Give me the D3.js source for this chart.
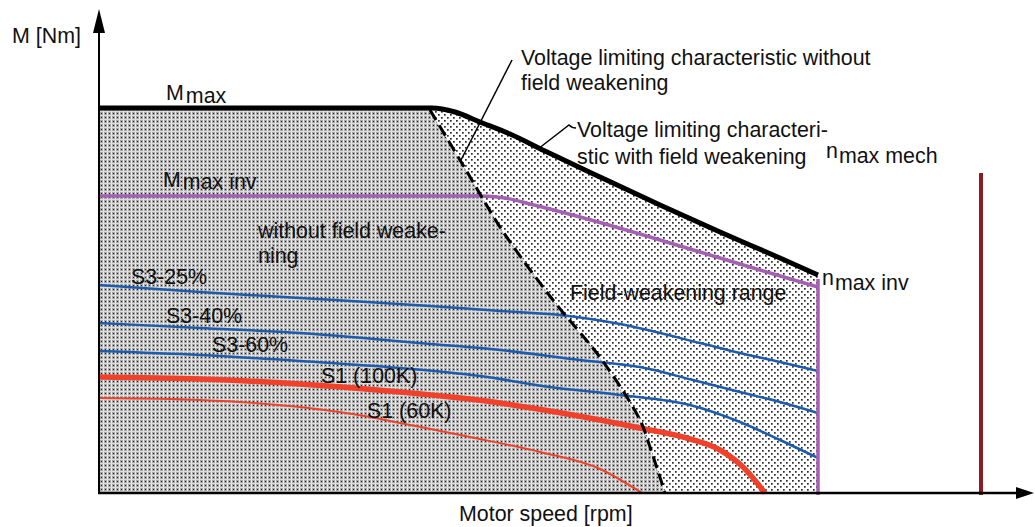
<!DOCTYPE html>
<html>
<head>
<meta charset="utf-8">
<script src="https://cdn.jsdelivr.net/npm/d3@7/dist/d3.min.js"></script>
<style>
  html, body { margin: 0; padding: 0; background: #fff; }
  svg text { font-family: "Liberation Sans", Arial, sans-serif; font-size: 21.4px; fill: #111; }
</style>
</head>
<body>
<svg id="chart" width="1035" height="527"></svg>
<script>
// ---- data (speed in arbitrary rpm units, torque in arbitrary Nm units) ----
const mMax = [[0,385],[333,385],[356,381],[381,371],[411,359],[446,342],[501,316],[561,288],[621,261],[681,235],[719,218]];
const mMaxInv = [[0,297],[381,297],[406,295],[431,289],[481,276],[541,259],[601,241],[661,223],[719,206]];
const voltNoFW = [[331,383],[367,323],[403,263],[454,193],[503,133],[541,73],[551,46],[566,0]];
const s3_25 = [[0,208],[101,201],[201,195],[331,187],[401,182],[461,178],[521,169],[601,150],[641,140],[681,131],[719,122]];
const s3_40 = [[0,170],[101,165],[201,160],[331,149],[401,143],[481,133],[541,126],[594,113],[641,101],[681,91],[719,80]];
const s3_60 = [[0,142],[101,138],[201,132],[301,125],[381,117],[451,106],[521,98],[591,88],[641,71],[681,53],[719,35]];
const s1_100K = [[0,116],[101,114],[201,109],[301,101],[401,90],[451,82],[541,65],[591,54],[621,43],[644,26],[666,0]];
const s1_60K = [[0,95],[101,93],[201,86],[271,76],[301,70],[371,56],[441,41],[501,24],[543,0]];
const nMaxInv = 719;      // speed of inverter limit
const nMaxInvTop = 214;   // torque where the limit line starts
const nMaxMech = 882;     // mechanical max speed
const nMaxMechTop = 320;
const leader1 = [[413,433],[361,331]];
const leader2 = [[474,366],[439,344]];

const axisLabels = { x: "Motor speed [rpm]", y: "M [Nm]" };

// ---- scales ----
const svg = d3.select("#chart");
const x = d3.scaleLinear().domain([0, 920]).range([99, 1019]);
const y = d3.scaleLinear().domain([0, 480]).range([493, 13]);

// ---- patterns ----
const defs = svg.append("defs");
const pd = defs.append("pattern").attr("id", "dense").attr("patternUnits", "userSpaceOnUse")
  .attr("width", 4).attr("height", 4);
pd.append("rect").attr("width", 4).attr("height", 4).attr("fill", "#a9a9a9");
pd.append("rect").attr("x", 3).attr("width", 1).attr("height", 4).attr("fill", "#ececec");
pd.append("rect").attr("y", 3).attr("width", 4).attr("height", 1).attr("fill", "#dcdcdc");
pd.append("rect").attr("x", 1).attr("y", 1).attr("width", 1).attr("height", 1).attr("fill", "#1a1a1a");

const ps = defs.append("pattern").attr("id", "sparse").attr("patternUnits", "userSpaceOnUse")
  .attr("width", 6).attr("height", 6);
ps.append("rect").attr("width", 6).attr("height", 6).attr("fill", "#fff");
ps.append("rect").attr("x", 0).attr("y", 0).attr("width", 1.7).attr("height", 1.7).attr("fill", "#2a2a2a");
ps.append("rect").attr("x", 3).attr("y", 3).attr("width", 1.7).attr("height", 1.7).attr("fill", "#2a2a2a");

const line = d3.line().x(d => x(d[0])).y(d => y(d[1])).curve(d3.curveMonotoneX);
const lineCR = d3.line().x(d => x(d[0])).y(d => y(d[1])).curve(d3.curveCatmullRom.alpha(0.5));

// ---- regions ----
const denseTop = mMax.filter(d => d[0] <= voltNoFW[0][0]);
const densePoly = [[0,0]].concat(denseTop, voltNoFW);
svg.append("path")
  .attr("d", "M" + densePoly.map(d => x(d[0]) + "," + y(d[1])).join("L") + "Z")
  .attr("fill", "url(#dense)");

const topPart = mMax.filter(d => d[0] >= voltNoFW[0][0]);
const sparsePath = line(topPart) + "L" + x(nMaxInv) + "," + y(0) +
  "L" + voltNoFW.slice().reverse().map(d => x(d[0]) + "," + y(d[1])).join("L") + "Z";
svg.append("path").attr("d", sparsePath).attr("fill", "url(#sparse)");

// ---- curves ----
const curves = [
  { data: s1_60K, color: "#f2412a", w: 2 },
  { data: s1_100K, color: "#f2412a", w: 5.5 },
  { data: s3_60, color: "#1d5cad", w: 2.5 },
  { data: s3_40, color: "#1d5cad", w: 2.5 },
  { data: s3_25, color: "#1d5cad", w: 2.5 },
  { data: mMaxInv, color: "#a460b2", w: 3.5 },
];
curves.forEach(c => {
  svg.append("path").attr("d", line(c.data)).attr("fill", "none")
    .attr("stroke", c.color).attr("stroke-width", c.w).attr("stroke-linejoin", "round");
});
svg.append("line").attr("x1", x(nMaxInv)).attr("x2", x(nMaxInv))
  .attr("y1", y(nMaxInvTop)).attr("y2", y(0) + 2)
  .attr("stroke", "#a460b2").attr("stroke-width", 3.5);

svg.append("path").attr("d", lineCR(voltNoFW)).attr("fill", "none")
  .attr("stroke", "#000").attr("stroke-width", 3).attr("stroke-dasharray", "12,6");

svg.append("path").attr("d", line(mMax)).attr("fill", "none")
  .attr("stroke", "#000").attr("stroke-width", 5).attr("stroke-linejoin", "round");

svg.append("line").attr("x1", x(nMaxMech)).attr("x2", x(nMaxMech))
  .attr("y1", y(nMaxMechTop)).attr("y2", y(0) + 2)
  .attr("stroke", "#8c1b24").attr("stroke-width", 4);

svg.append("line").attr("x1", x(leader1[0][0])).attr("y1", y(leader1[0][1]))
  .attr("x2", x(leader1[1][0])).attr("y2", y(leader1[1][1]))
  .attr("stroke", "#000").attr("stroke-width", 1.5);
svg.append("path")
  .attr("d", `M${x(leader2[1][0])},${y(leader2[1][1])} L${x(leader2[0][0]) - 4},${y(leader2[0][1]) - 2} Q${x(leader2[0][0]) - 1},${y(leader2[0][1]) + 1} ${x(leader2[0][0]) + 3},${y(leader2[0][1]) + 1}`)
  .attr("fill", "none").attr("stroke", "#000").attr("stroke-width", 1.5);

// ---- axes ----
svg.append("line").attr("x1", x(0)).attr("x2", x(0)).attr("y1", y(0) + 1).attr("y2", 28)
  .attr("stroke", "#000").attr("stroke-width", 2);
svg.append("path").attr("d", `M${x(0)},9 L${x(0) - 6},33 L${x(0) + 6},33 Z`).attr("fill", "#000");
svg.append("line").attr("x1", x(0) - 1).attr("x2", 1022).attr("y1", y(0)).attr("y2", y(0))
  .attr("stroke", "#000").attr("stroke-width", 2.5);
svg.append("path").attr("d", `M1034,${y(0)} L1016,${y(0) - 6} L1016,${y(0) + 6} Z`).attr("fill", "#000");

// ---- labels ----
function label(px, py, parts) {
  const t = svg.append("text").attr("x", px).attr("y", py);
  parts.forEach(p => {
    const s = t.append("tspan").text(p.t);
    if (p.dx) s.attr("dx", p.dx);
    if (p.dy) s.attr("dy", p.dy);
  });
  return t;
}
label(12, 43, [{ t: axisLabels.y }]);
svg.append("text").attr("x", 459).attr("y", 521).text(axisLabels.x);

label(166, 100, [{ t: "M" }, { t: "max", dx: 2, dy: 3 }]);
label(163, 187, [{ t: "M" }, { t: "max inv", dx: 2, dy: 2 }]);
label(822, 285, [{ t: "n" }, { t: "max inv", dx: 1, dy: 5 }]);
label(826, 158, [{ t: "n" }, { t: "max mech", dx: 1, dy: 5 }]);

label(521, 65, [{ t: "Voltage limiting characteristic without" }]);
label(521, 90, [{ t: "field weakening" }]);
label(577, 137, [{ t: "Voltage limiting characteri-" }]);
label(577, 164, [{ t: "stic with field weakening" }]);
label(258, 238, [{ t: "without field weake-" }]);
label(258, 263, [{ t: "ning" }]);
label(570, 300, [{ t: "Field-weakening range" }]);

label(131, 284, [{ t: "S3-25%" }]);
label(166, 323, [{ t: "S3-40%" }]);
label(212, 352, [{ t: "S3-60%" }]);
label(321, 383, [{ t: "S1 (100K)" }]);
label(367, 418, [{ t: "S1 (60K)" }]);
</script>
</body>
</html>
